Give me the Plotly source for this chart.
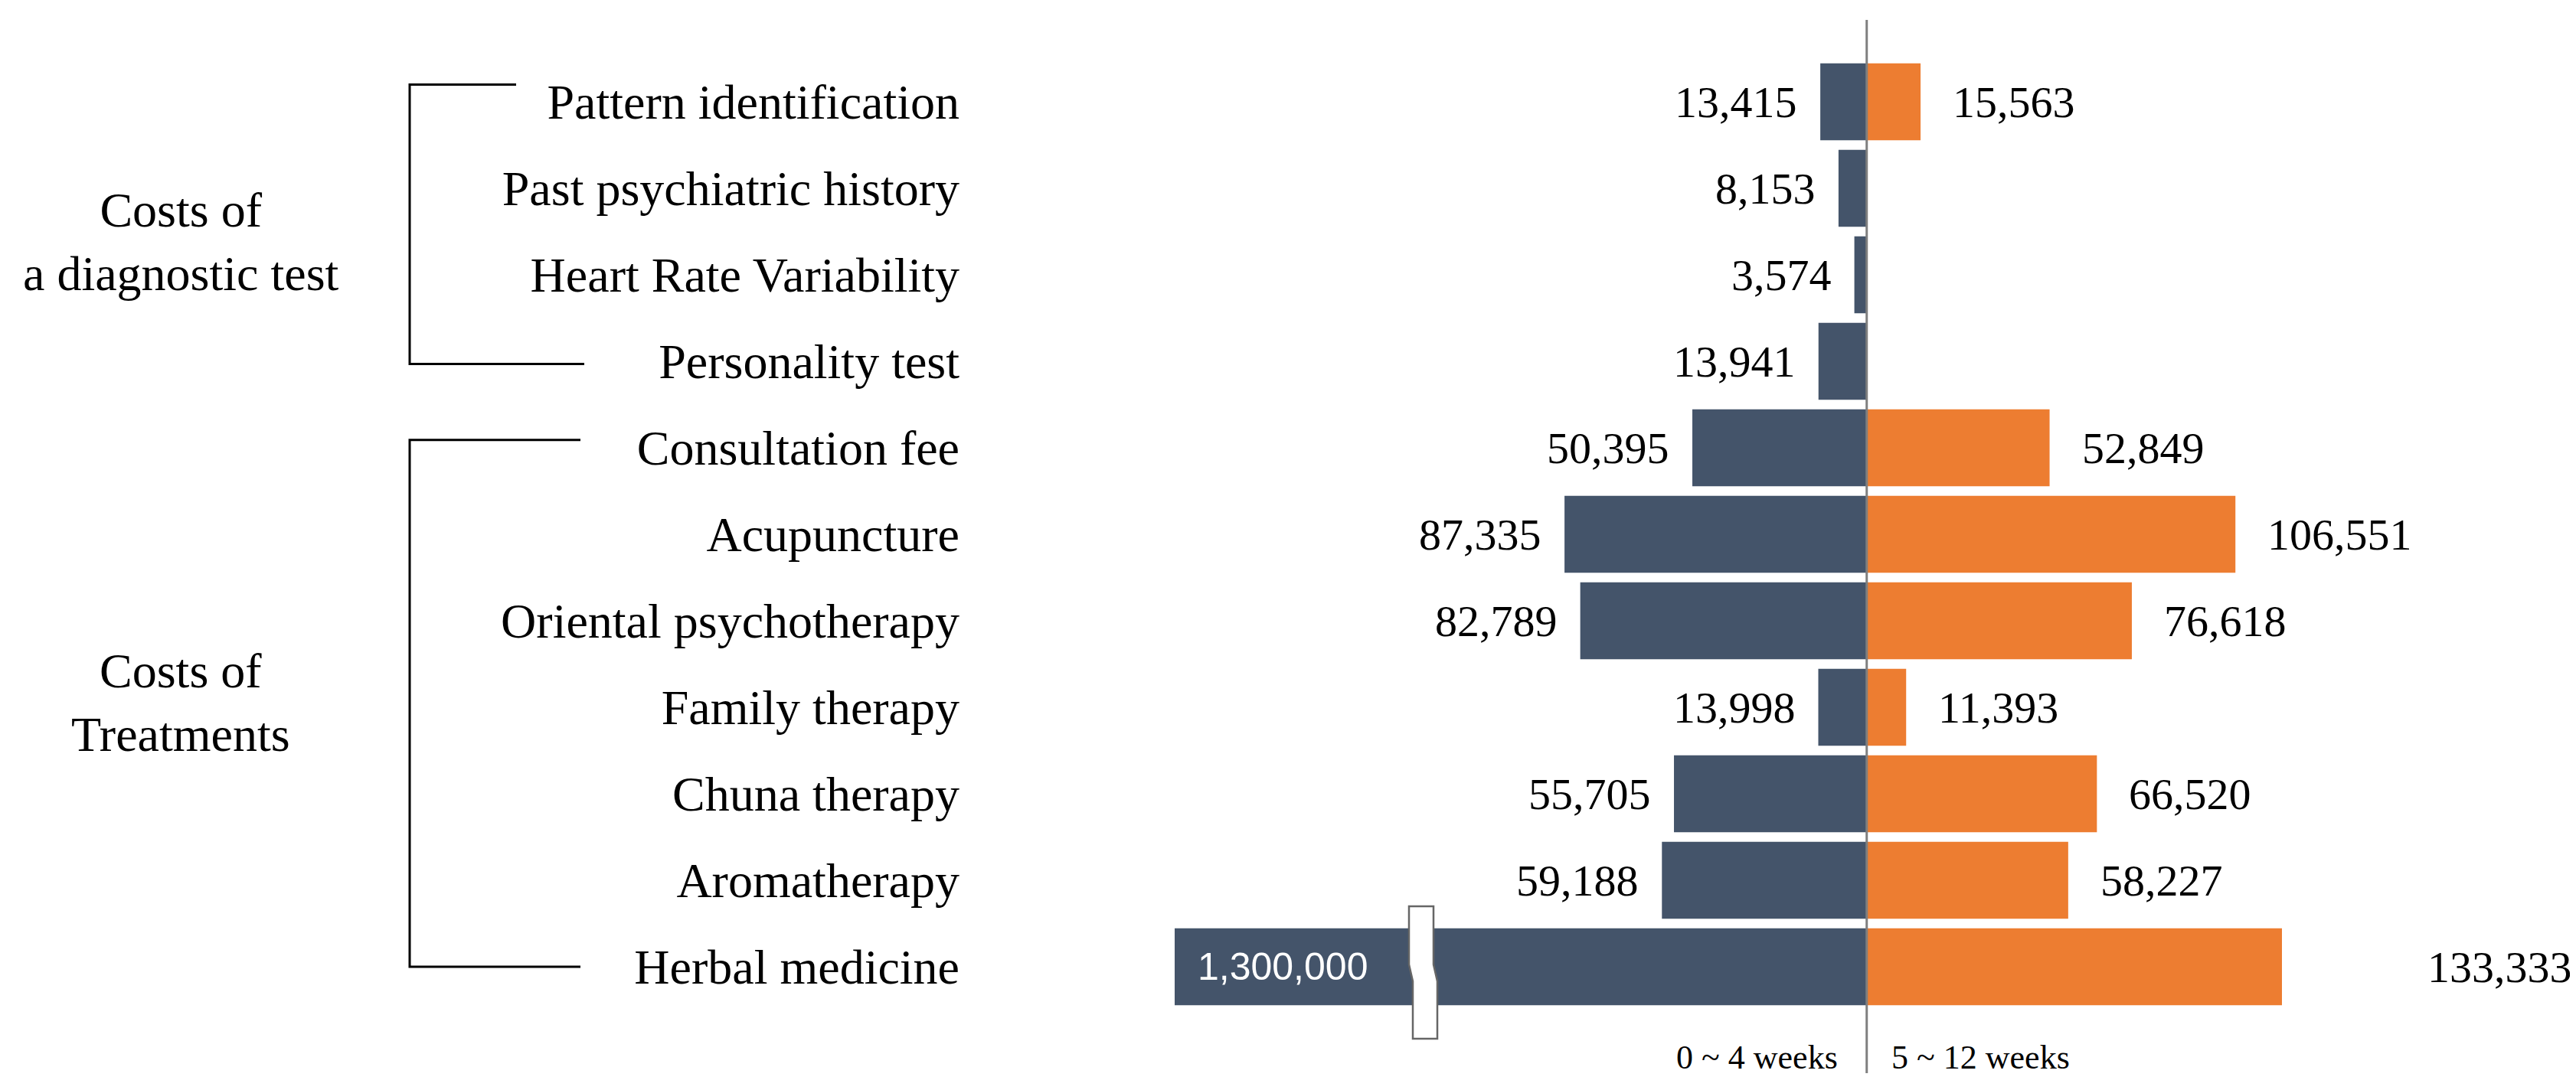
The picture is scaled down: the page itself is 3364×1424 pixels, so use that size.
import plotly.graph_objects as go

# ---------------- data ----------------
categories = [
    "Pattern identification", "Past psychiatric history", "Heart Rate Variability",
    "Personality test", "Consultation fee", "Acupuncture", "Oriental psychotherapy",
    "Family therapy", "Chuna therapy", "Aromatherapy", "Herbal medicine",
]
early_costs = [13415, 8153, 3574, 13941, 50395, 87335, 82789, 13998, 55705, 59188, 1300000]
late_costs = [15563, None, None, None, 52849, 106551, 76618, 11393, 66520, 58227, 133333]
period_labels = ["0 ~ 4 weeks", "5 ~ 12 weeks"]
group_labels = ["Costs of<br>a diagnostic test", "Costs of<br>Treatments"]
group_first = ["Pattern identification", "Consultation fee"]
group_last = ["Personality test", "Herbal medicine"]

# ---------------- styling / layout constants ----------------
W, H = 3364, 1424
PLOT_L, PLOT_R, PLOT_T, PLOT_B = 1526, 2972, 18, 1394
X_MIN, X_MAX = -200000, 120000
Y_BOTTOM, Y_TOP = 11.23, -0.947
DARK = "#44546A"
ORANGE = "#ED7D31"
SERIF = "Liberation Serif"

def px_x(px):
    return (px - PLOT_L) / (PLOT_R - PLOT_L)

def px_y(py):
    return (PLOT_B - py) / (PLOT_B - PLOT_T)

def idx_y(i):
    return (Y_BOTTOM - i) / (Y_BOTTOM - Y_TOP)

fig = go.Figure()

fig.add_trace(go.Bar(
    y=categories, x=[-v for v in early_costs], orientation="h",
    marker=dict(color=DARK, line=dict(width=0)), width=0.89,
    name=period_labels[0], hoverinfo="skip",
))
fig.add_trace(go.Bar(
    y=categories, x=late_costs, orientation="h",
    marker=dict(color=ORANGE, line=dict(width=0)), width=0.89,
    name=period_labels[1], hoverinfo="skip",
))

annotations = []
# value labels
for cat, v in zip(categories, early_costs):
    if v is None:
        continue
    if -v < X_MIN:
        annotations.append(dict(x=X_MIN, y=cat, xref="x", yref="y", text=f"{v:,}",
                                xanchor="left", xshift=28, showarrow=False,
                                font=dict(family="Liberation Sans", size=50, color="white")))
    else:
        annotations.append(dict(x=-v, y=cat, xref="x", yref="y", text=f"{v:,}",
                                xanchor="right", xshift=-28, showarrow=False,
                                font=dict(family=SERIF, size=58, color="black")))
for cat, v in zip(categories, late_costs):
    if v is None:
        continue
    if v > X_MAX:
        annotations.append(dict(x=X_MAX, y=cat, xref="x", yref="y", text=f"{v:,}",
                                xanchor="left", xshift=188, showarrow=False,
                                font=dict(family=SERIF, size=58, color="black")))
    else:
        annotations.append(dict(x=v, y=cat, xref="x", yref="y", text=f"{v:,}",
                                xanchor="left", xshift=40, showarrow=False,
                                font=dict(family=SERIF, size=58, color="black")))

# period labels under the axis
annotations.append(dict(x=0, y=px_y(1373), xref="x", yref="paper", text=period_labels[0],
                        xanchor="right", xshift=-36, yanchor="middle", showarrow=False,
                        font=dict(family=SERIF, size=44, color="black")))
annotations.append(dict(x=0, y=px_y(1373), xref="x", yref="paper", text=period_labels[1],
                        xanchor="left", xshift=30, yanchor="middle", showarrow=False,
                        font=dict(family=SERIF, size=44, color="black")))

# group labels and brackets
shapes = []
bracket_x = px_x(527)
bracket_ends = [(px_x(666), px_x(755)), (px_x(750), px_x(750))]
bracket_pad = [(-0.2, 0.03), (-0.09, 0.0)]
for k, lab in enumerate(group_labels):
    i0 = categories.index(group_first[k])
    i1 = categories.index(group_last[k])
    yt = idx_y(i0 + bracket_pad[k][0])
    yb = idx_y(i1 + bracket_pad[k][1])
    te, be = bracket_ends[k]
    shapes.append(dict(type="path", xref="paper", yref="paper",
                       path=f"M {te} {yt} L {bracket_x} {yt} L {bracket_x} {yb} L {be} {yb}",
                       line=dict(color="black", width=3)))
    annotations.append(dict(x=px_x(228), y=idx_y((i0 + i1) / 2 + (0.12 if k == 0 else -0.05)),
                            xref="paper", yref="paper", text=lab, showarrow=False,
                            xanchor="center", yanchor="middle", align="center",
                            font=dict(family=SERIF, size=64, color="black")))

# centre axis line
shapes.append(dict(type="line", xref="x", yref="paper", x0=0, x1=0, y0=0, y1=1,
                   line=dict(color="#7F7F7F", width=3), layer="above"))

# axis break marker on the clipped bar (slightly offset Z-shaped white band)
pts = [(1832, 1176), (1832, 1252), (1837, 1274), (1837, 1349),
       (1869, 1349), (1869, 1274), (1864, 1252), (1864, 1176)]
break_path = "M " + " L ".join(f"{px_x(a)} {px_y(b)}" for a, b in pts) + " Z"
shapes.append(dict(type="path", xref="paper", yref="paper", path=break_path,
                   fillcolor="white", line=dict(color="#666666", width=2.5), layer="above"))

fig.update_layout(
    width=W, height=H,
    margin=dict(l=PLOT_L, r=W - PLOT_R, t=PLOT_T, b=H - PLOT_B, pad=0),
    paper_bgcolor="white", plot_bgcolor="white",
    barmode="overlay", showlegend=False,
    xaxis=dict(range=[X_MIN, X_MAX], showgrid=False, zeroline=False,
               showticklabels=False, ticks="", showline=False),
    yaxis=dict(categoryorder="array", categoryarray=categories,
               range=[Y_BOTTOM, Y_TOP], showgrid=False, zeroline=False,
               showline=False, ticks="", ticklabelstandoff=280,
               tickfont=dict(family=SERIF, size=64, color="black")),
    annotations=annotations, shapes=shapes,
)

fig.write_html("out.html")
